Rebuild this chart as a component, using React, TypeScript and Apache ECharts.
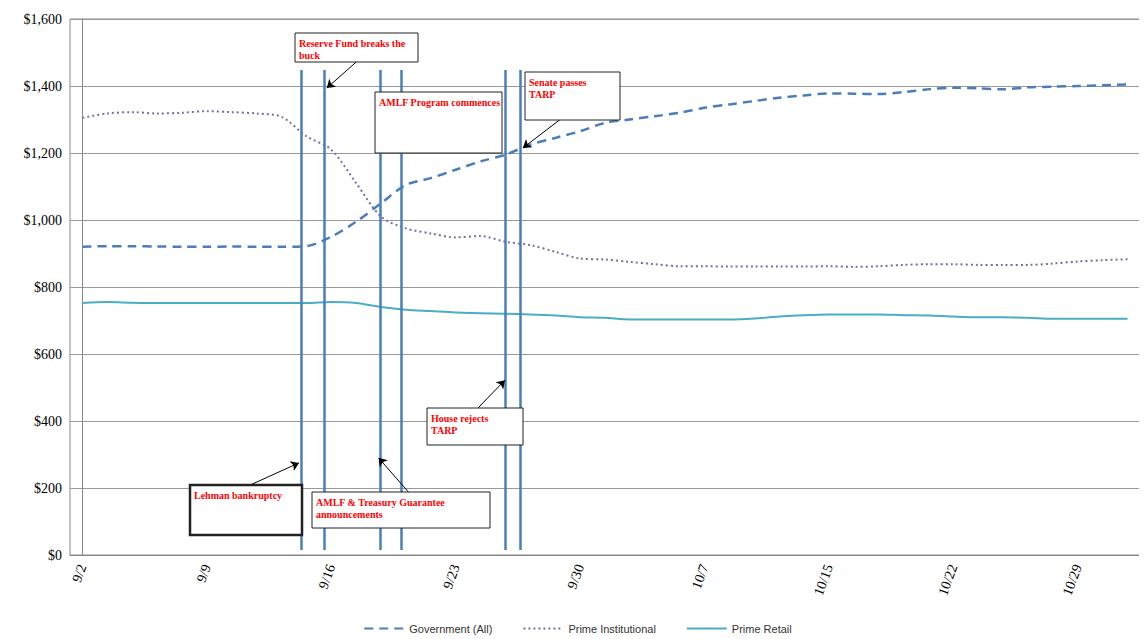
import { useEffect, useRef } from 'react'
import * as echarts from 'echarts'

const dates = [
  '9/2', '9/3', '9/4', '9/5', '9/8', '9/9', '9/10', '9/11', '9/12', '9/15',
  '9/16', '9/17', '9/18', '9/19', '9/22', '9/23', '9/24', '9/25', '9/26', '9/29',
  '9/30', '10/1', '10/2', '10/3', '10/6', '10/7', '10/8', '10/9', '10/10', '10/14',
  '10/15', '10/16', '10/17', '10/20', '10/21', '10/22', '10/23', '10/24', '10/27', '10/28',
  '10/29', '10/30', '10/31',
]
const tickLabels = ['9/2', '9/9', '9/16', '9/23', '9/30', '10/7', '10/15', '10/22', '10/29']

const government = [
  920, 922, 922, 921, 920, 920, 921, 920, 920, 922,
  950, 995, 1050, 1105, 1125, 1150, 1175, 1195, 1225, 1245,
  1265, 1290, 1300, 1310, 1320, 1335, 1345, 1355, 1365, 1372,
  1378, 1377, 1376, 1382, 1390, 1395, 1393, 1390, 1396, 1398,
  1400, 1402, 1405,
]
const primeInstitutional = [
  1305, 1318, 1322, 1318, 1320, 1325, 1322, 1318, 1308, 1250,
  1210, 1110, 1010, 975, 960, 948, 952, 935, 925, 905,
  885, 882, 875, 868, 862, 862, 861, 861, 861, 861,
  862, 860, 862, 866, 868, 868, 866, 866, 866, 870,
  876, 880, 883,
]
const primeRetail = [
  752, 755, 753, 752, 752, 752, 752, 752, 752, 752,
  755, 752, 740, 732, 728, 724, 722, 720, 718, 715,
  710, 708, 703, 703, 703, 703, 703, 706, 712, 716,
  718, 718, 718, 716, 715, 712, 710, 710, 708, 705,
  705, 705, 705,
]

// event lines, x position in category units
const eventLines = [8.78, 9.7, 11.98, 12.82, 16.98, 17.58]
const eventTop = 1448
const eventBottom = 15

// annotation arrows [[x, y], [x, y]] from box to event line
const arrows = [
  [[11.1, 1478], [9.82, 1394]],
  [[14.3, 1293], [12.9, 1373]],
  [[19.18, 1299], [17.7, 1215]],
  [[15.9, 439], [16.98, 522]],
  [[6.3, 194], [8.7, 275]],
  [[13.1, 188], [11.9, 290]],
]

const boxes = [
  { x: 287, y: 25, w: 123, h: 29, text: 'Reserve Fund breaks the\nbuck' },
  { x: 367, y: 84, w: 127, h: 61, text: 'AMLF Program commences' },
  { x: 517, y: 64, w: 95, h: 48, text: 'Senate passes\nTARP' },
  { x: 419, y: 400, w: 96, h: 37, text: 'House rejects\nTARP' },
  { x: 182, y: 477, w: 112, h: 50, text: 'Lehman bankruptcy', thick: true },
  { x: 304, y: 484, w: 178, h: 36, text: 'AMLF & Treasury Guarantee\nannouncements' },
]

export default function App() {
  const ref = useRef<HTMLDivElement>(null)

  useEffect(() => {
    if (!ref.current) return
    const chart = echarts.init(ref.current, undefined, { renderer: 'svg' })
    const serif = 'Liberation Serif, Times New Roman, serif'

    const lineSegs: any[] = eventLines.map((x) => [
      { coord: [x, eventBottom] },
      { coord: [x, eventTop] },
    ])
    const arrowSegs: any[] = arrows.map(([a, b]) => [{ coord: a }, { coord: b }])

    chart.setOption({
      animation: false,
      grid: { left: 62, right: 7, top: 11, bottom: 84, show: true, borderColor: '#888', borderWidth: 1 },
      legend: {
        top: 610,
        left: 'center',
        itemWidth: 40,
        itemGap: 30,
        itemStyle: { opacity: 0 },
        textStyle: { fontFamily: 'Liberation Sans, Arial', fontSize: 11, color: '#333' },
        data: ['Government (All)', 'Prime Institutional', 'Prime Retail'],
      },
      xAxis: [
        {
          type: 'category',
          data: dates,
          boundaryGap: true,
          axisLine: { lineStyle: { color: '#888' } },
          axisTick: { show: false },
          axisLabel: {
            interval: (i: number) => tickLabels.includes(dates[i]),
            rotate: 70,
            fontFamily: serif,
            fontSize: 14,
            color: '#000',
            margin: 10,
          },
        },
        { type: 'value', min: -0.5, max: 42.5, show: false },
      ],
      yAxis: {
        type: 'value',
        min: 0,
        max: 1600,
        interval: 200,
        axisLine: { show: true, lineStyle: { color: '#888' } },
        axisTick: { show: false },
        splitLine: { lineStyle: { color: '#999' } },
        axisLabel: {
          fontFamily: serif,
          fontSize: 14,
          color: '#000',
          formatter: (v: number) => '$' + v.toLocaleString('en-US'),
        },
      },
      series: [
        {
          name: 'Government (All)',
          type: 'line',
          data: government,
          symbol: 'none',
          smooth: 0.3,
          lineStyle: { color: '#4a7ebb', width: 2.5, type: [9, 6] },
          itemStyle: { color: '#4a7ebb' },
        },
        {
          name: 'Prime Institutional',
          type: 'line',
          data: primeInstitutional,
          symbol: 'none',
          smooth: 0.3,
          lineStyle: { color: '#7e6aa6', width: 2, type: [2, 3] },
          itemStyle: { color: '#7e6aa6' },
        },
        {
          name: 'Prime Retail',
          type: 'line',
          data: primeRetail,
          symbol: 'none',
          smooth: 0.3,
          lineStyle: { color: '#4bacc6', width: 2 },
          itemStyle: { color: '#4bacc6' },
        },
        {
          type: 'line',
          xAxisIndex: 1,
          data: [],
          markLine: {
            silent: true,
            symbol: 'none',
            label: { show: false },
            lineStyle: { color: '#4a7ebb', width: 2.5, type: 'solid' },
            data: lineSegs,
          },
        },
        {
          type: 'line',
          xAxisIndex: 1,
          data: [],
          markLine: {
            silent: true,
            symbol: ['none', 'arrow'],
            symbolSize: 8,
            label: { show: false },
            lineStyle: { color: '#000', width: 1, type: 'solid' },
            data: arrowSegs,
          },
        },
      ],
      graphic: boxes.map((b) => ({
        type: 'group',
        z: 100,
        children: [
          {
            type: 'rect',
            z: 100,
            shape: { x: b.x, y: b.y, width: b.w, height: b.h },
            style: { fill: '#fff', stroke: '#222', lineWidth: b.thick ? 2.5 : 1 },
          },
          {
            type: 'text',
            z: 101,
            x: b.x + 4,
            y: b.y + 4,
            style: {
              text: b.text,
              fill: '#ff0000',
              font: 'bold 10px ' + serif,
              lineHeight: 12,
            },
          },
        ],
      })),
    })

    return () => chart.dispose()
  }, [])

  return <div ref={ref} style={{ width: 1139, height: 631 }} />
}
